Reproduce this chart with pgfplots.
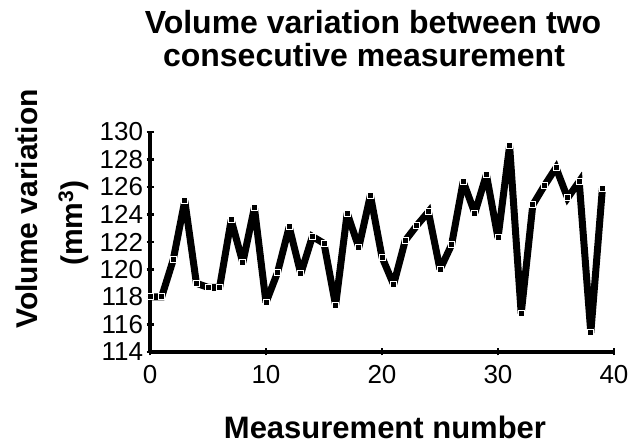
\documentclass[border=0pt]{standalone}
\usepackage{fontspec}
\setmainfont{Liberation Sans}
\usepackage{pgfplots}
\pgfplotsset{compat=1.18}
\begin{document}
\begin{tikzpicture}
\path[use as bounding box] (0bp,0bp) rectangle (633bp,445bp);
\begin{axis}[
  at={(150bp,93bp)}, anchor=south west,
  scale only axis, width=464bp, height=220bp,
  xmin=0, xmax=40, ymin=114, ymax=130,
  axis x line=bottom, axis y line=left,
  axis line style={-, line width=4bp, black},
  xtick={0,10,20,30,40}, ytick={114,116,...,130},
  tick align=center, major tick length=7bp,
  tick style={line width=2.5bp, black},
  ticklabel style={font=\fontsize{26bp}{26bp}\selectfont},
  xticklabel style={yshift=-6bp},
  /pgf/number format/assume math mode=true,
  clip=false,
]
\addplot[black, line width=7bp, miter limit=3,
  mark=square*, mark size=3bp,
  mark options={fill=black, draw=white, line width=1bp, solid}]
coordinates {
(0,118) (1,118) (2,120.7) (3,125.0) (4,119.0) (5,118.7) (6,118.7) (7,123.6)
(8,120.5) (9,124.5) (10,117.6) (11,119.8) (12,123.1) (13,119.7) (14,122.4)
(15,121.9) (16,117.4) (17,124.1) (18,121.6) (19,125.4) (20,120.9) (21,118.9)
(22,122.1) (23,123.2) (24,124.2) (25,120.0) (26,121.8) (27,126.4) (28,124.1)
(29,126.9) (30,122.3) (31,129.0) (32,116.8) (33,124.7) (34,126.1) (35,127.4)
(36,125.2) (37,126.4) (38,115.4) (39,125.9)
};
\end{axis}
\node[anchor=base, inner sep=0pt, font=\bfseries\fontsize{32bp}{32bp}\selectfont] at (373bp,411bp) {Volume variation between two};
\node[anchor=base, inner sep=0pt, font=\bfseries\fontsize{32bp}{32bp}\selectfont] at (364bp,378bp) {consecutive measurement};
\node[rotate=90, anchor=base, inner sep=0pt, font=\bfseries\fontsize{30bp}{30bp}\selectfont] at (37bp,236bp) {Volume variation};
\node[rotate=90, anchor=base, inner sep=0pt, font=\bfseries\fontsize{30bp}{30bp}\selectfont] at (82bp,222bp) {(mm\textsuperscript{3})};
\node[anchor=base, inner sep=0pt, font=\bfseries\fontsize{31bp}{31bp}\selectfont] at (385bp,7bp) {Measurement number};
\end{tikzpicture}
\end{document}
